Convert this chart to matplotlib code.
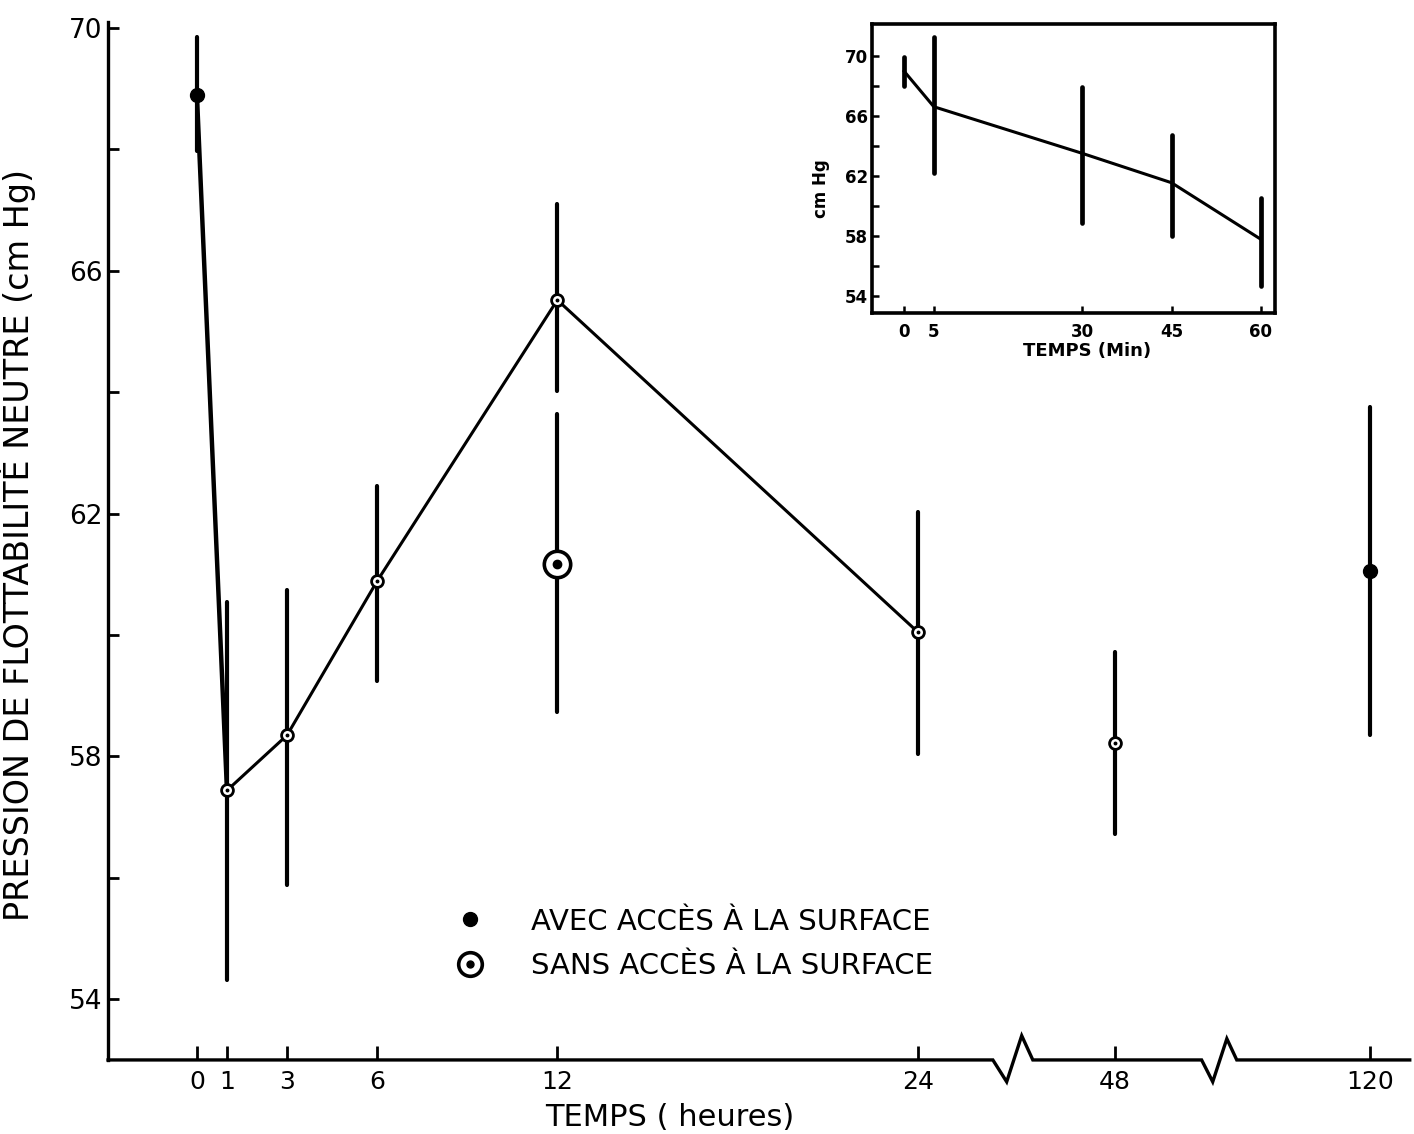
import numpy as np
import matplotlib
matplotlib.use("Agg")
import matplotlib.pyplot as plt
from matplotlib.lines import Line2D
from matplotlib.legend_handler import HandlerTuple

# main chart, hours after immersion
hours = [0, 1, 3, 6, 12, 24, 48, 120]
mean_p = [68.89, 57.44, 58.35, 60.89, 65.52, 60.05, 58.22, 61.05]
low_p = [67.98, 54.32, 55.89, 59.25, 64.02, 58.04, 56.72, 58.36]
high_p = [69.86, 60.54, 60.74, 62.45, 67.10, 62.03, 59.72, 63.76]
avec = [True, False, False, False, False, False, False, True]

# extra point at 12 h (sans acces a la surface)
sans_h = 12
sans_mean = 61.17
sans_low = 58.74
sans_high = 63.64

# inset, minutes
minutes = [0, 5, 30, 45, 60]
mean_min = [68.96, 66.6, 63.5, 61.55, 57.8]
low_min = [68.0, 62.2, 58.9, 58.0, 54.7]
high_min = [69.9, 71.2, 67.9, 64.75, 60.55]

tick_labels = ["0", "1", "3", "6", "12", "24", "48", "120"]
leg_labels = ["AVEC ACCÈS À LA SURFACE", "SANS ACCÈS À LA SURFACE"]

# broken time axis: 48 h and 120 h are placed after the breaks
broken_pos = {48: 30.56, 120: 39.05}
pos = [broken_pos.get(h, h) for h in hours]

plt.rcParams['font.family'] = ['DejaVu Sans']
fig = plt.figure(figsize=(14.14, 11.34), dpi=100)
ax = fig.add_axes([0.0764, 0.0653, 0.9206, 0.9153])

xmin, xmax = -2.96, 40.38
ymin, ymax = 53.0, 70.1
ax.set_xlim(xmin, xmax)
ax.set_ylim(ymin, ymax)

# error bars
for x, lo, hi in zip(pos, low_p, high_p):
    ax.plot([x, x], [lo, hi], color='k', lw=3.0, solid_capstyle='round', zorder=2)
ax.plot([sans_h, sans_h], [sans_low, sans_high], color='k', lw=3.0,
        solid_capstyle='round', zorder=2)

# line through the first six points
ax.plot(pos[:2], mean_p[:2], color='k', lw=3.2, zorder=3)
ax.plot(pos[1:6], mean_p[1:6], color='k', lw=2.2, zorder=3)

# markers
for x, y, f in zip(pos, mean_p, avec):
    if f:
        ax.plot(x, y, 'o', ms=10, mfc='k', mec='k', zorder=4)
    else:
        ax.plot(x, y, 'o', ms=8.5, mfc='white', mec='k', mew=2.0, zorder=4)
        ax.plot(x, y, 'o', ms=1.8, mfc='k', mec='k', zorder=5)
ax.plot(sans_h, sans_mean, 'o', ms=19, mfc='white', mec='k', mew=2.6, zorder=4)
ax.plot(sans_h, sans_mean, 'o', ms=6, mfc='k', mec='k', zorder=5)

# axes styling
for s in ['top', 'right', 'bottom']:
    ax.spines[s].set_visible(False)
ax.spines['left'].set_linewidth(2.4)

ax.set_yticks([54, 58, 62, 66, 70])
ax.set_yticks([56, 60, 64, 68], minor=True)
ax.set_xticks(pos)
ax.set_xticklabels(tick_labels)
ax.tick_params(axis='y', which='both', direction='in', length=8, width=2,
               labelsize=19, pad=4)
ax.tick_params(axis='x', direction='in', length=10, width=2, labelsize=18,
               pad=7)

# bottom axis line with two zigzag breaks
zx = [xmin, 26.5, 26.96, 27.46, 27.83, 33.45, 33.82, 34.29, 34.62, xmax]
zy = [ymin, ymin, 52.64, 53.40, ymin, ymin, 52.64, 53.35, ymin, ymin]
ax.plot(zx, zy, color='k', lw=2.4, clip_on=False, zorder=6,
        solid_joinstyle='miter')

ax.set_ylabel("PRESSION DE FLOTTABILITÉ NEUTRE (cm Hg)", fontsize=24)
ax.yaxis.set_label_coords(-0.055, 0.496)
ax.set_xlabel("TEMPS ( heures)", fontsize=22)
ax.xaxis.set_label_coords(0.4316, -0.041)

# legend
dot = Line2D([], [], ls='none', marker='o', ms=10, mfc='k', mec='k')
ring = Line2D([], [], ls='none', marker='o', ms=17, mfc='white', mec='k', mew=2.6)
cdot = Line2D([], [], ls='none', marker='o', ms=5, mfc='k', mec='k')
ax.legend([dot, (ring, cdot)], leg_labels,
          handler_map={tuple: HandlerTuple(ndivide=1)},
          frameon=False, loc='upper left', bbox_to_anchor=(0.2475, 0.172),
          fontsize=21, handlelength=0.95, handletextpad=1.6, labelspacing=0.55)

# inset
ins = fig.add_axes([0.6167, 0.724, 0.285, 0.2549])
ins.set_xlim(-5.4, 62.4)
ins.set_ylim(52.9, 72.1)
for x, lo, hi in zip(minutes, low_min, high_min):
    ins.plot([x, x], [lo, hi], color='k', lw=3.4, solid_capstyle='round')
ins.plot(minutes, mean_min, color='k', lw=2.2)
for s in ins.spines.values():
    s.set_linewidth(2.6)
ins.set_yticks([54, 58, 62, 66, 70])
ins.set_yticks([56, 60, 64, 68], minor=True)
ins.set_xticks(minutes)
ins.tick_params(axis='both', which='both', direction='in', length=5, width=1.8,
                labelsize=12)
ins.tick_params(axis='y', pad=3)
ins.tick_params(axis='x', pad=7)
for lab in ins.get_xticklabels() + ins.get_yticklabels():
    lab.set_fontweight('bold')
ins.set_xlabel("TEMPS (Min)", fontsize=13, fontweight='bold')
ins.xaxis.set_label_coords(0.533, -0.1)
ins.set_ylabel("cm Hg", fontsize=12, fontweight='bold')
ins.yaxis.set_label_coords(-0.105, 0.43)

fig.savefig("out.png", dpi=100)
